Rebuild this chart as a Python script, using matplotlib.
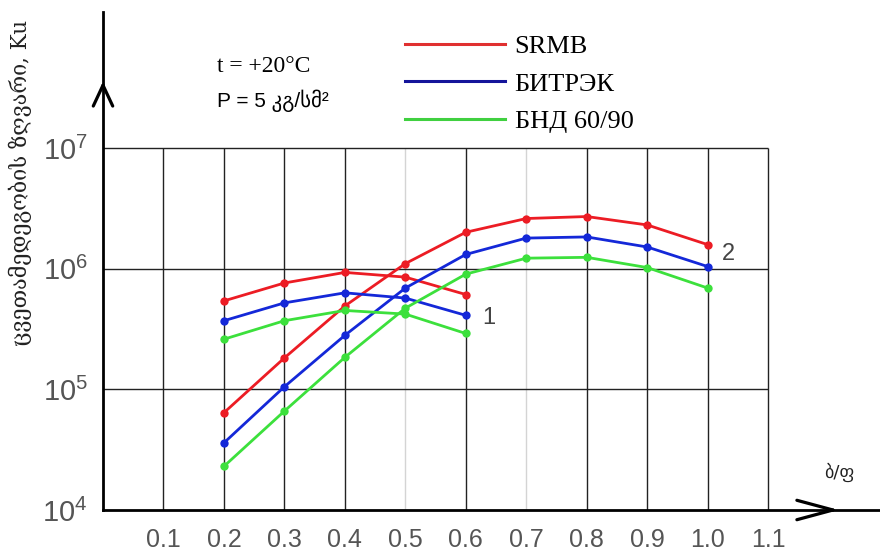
import numpy as np
import matplotlib
matplotlib.use('Agg')
import matplotlib.pyplot as plt
from matplotlib.lines import Line2D

# bitumen/filler ratio
x_short = [0.2, 0.3, 0.4, 0.5, 0.6]
x_long = [0.2, 0.3, 0.4, 0.5, 0.6, 0.7, 0.8, 0.9, 1.0]

# curve group 1
srmb_1 = [5.4e5, 7.6e5, 9.3e5, 8.5e5, 6.1e5]
bitrek_1 = [3.7e5, 5.2e5, 6.3e5, 5.7e5, 4.1e5]
bnd_1 = [2.6e5, 3.7e5, 4.5e5, 4.2e5, 2.9e5]

# curve group 2
srmb_2 = [6.4e4, 1.82e5, 4.9e5, 1.1e6, 2.0e6, 2.6e6, 2.7e6, 2.3e6, 1.58e6]
bitrek_2 = [3.6e4, 1.05e5, 2.8e5, 6.9e5, 1.31e6, 1.79e6, 1.83e6, 1.51e6, 1.04e6]
bnd_2 = [2.3e4, 6.6e4, 1.84e5, 4.7e5, 9.0e5, 1.22e6, 1.24e6, 1.02e6, 6.9e5]

series_names = ['SRMB', 'БИТРЭК', 'БНД 60/90']
curve_colors = ['#ec1c24', '#1428d8', '#3ce03c']
legend_colors = ['#e03030', '#14149a', '#40d040']

x_ticks = [0.1, 0.2, 0.3, 0.4, 0.5, 0.6, 0.7, 0.8, 0.9, 1.0, 1.1]
x_tick_labels = ['0.1', '0.2', '0.3', '0.4', '0.5', '0.6', '0.7', '0.8', '0.9', '1.0', '1.1']
y_ticks = [1e4, 1e5, 1e6, 1e7]
y_tick_labels = [r'$\mathregular{10^{4}}$', r'$\mathregular{10^{5}}$',
                 r'$\mathregular{10^{6}}$', r'$\mathregular{10^{7}}$']

W, H = 880, 552
fig = plt.figure(figsize=(W / 100, H / 100), dpi=100)
ax = fig.add_axes([103 / W, 42 / H, 777 / W, 498 / H])
ax.set_yscale('log')
ax.set_xlim(0, 1.285)
ax.set_ylim(1e4, 10 ** 8.126)

# grid (only inside the 0..1.1 x 1e4..1e7 box)
light = [0.5, 0.7]
for xv in x_ticks:
    c = '#d4d4d4' if xv in light else '#222222'
    ax.vlines(xv, 1e4, 1e7, color=c, lw=1.0, zorder=1)
ax.hlines(y_ticks[1:], 0, 1.1, color='#222222', lw=1.0, zorder=1)

# curves
for ys1, ys2, col in zip([srmb_1, bitrek_1, bnd_1], [srmb_2, bitrek_2, bnd_2], curve_colors):
    ax.plot(x_short, ys1, color=col, lw=2.0, marker='o', ms=6, mew=0, zorder=3)
    ax.plot(x_long, ys2, color=col, lw=2.0, marker='o', ms=6, mew=0, zorder=3)

ax.annotate('1', xy=(x_short[-1], bitrek_1[-1]), xytext=(12, -2), textcoords='offset points',
            fontsize=17, family='Liberation Sans', color='#444444', va='center')
ax.annotate('2', xy=(x_long[-1], bitrek_2[-1]), xytext=(10, 9), textcoords='offset points',
            fontsize=17, family='Liberation Sans', color='#444444', va='center')

# axes
for s in ['top', 'right']:
    ax.spines[s].set_visible(False)
for s in ['left', 'bottom']:
    ax.spines[s].set_linewidth(2.0)
    ax.spines[s].set_color('black')

ax.set_xticks(x_ticks)
ax.set_xticklabels(x_tick_labels)
ax.set_yticks(y_ticks)
ax.set_yticklabels(y_tick_labels)
ax.minorticks_off()
ax.tick_params(axis='x', length=0, pad=13, labelsize=18, labelcolor='#555555')
ax.tick_params(axis='y', length=0, pad=11, labelsize=21, labelcolor='#555555')
for lab in ax.get_xticklabels() + ax.get_yticklabels():
    lab.set_family('Liberation Sans')

# open arrow heads
arm = dict(arrowstyle='-', lw=2.3, color='black', shrinkA=0, shrinkB=0)
for dy in [7, -7]:
    ax.annotate('', xy=(0.9395, 0), xycoords='axes fraction',
                xytext=(-26, dy), textcoords='offset points', arrowprops=arm)
for dx in [7, -7]:
    ax.annotate('', xy=(0, 0.853), xycoords='axes fraction',
                xytext=(dx, -15), textcoords='offset points', arrowprops=arm)

# legend
handles = [Line2D([], [], color=c, lw=2.2) for c in legend_colors]
fig.legend(handles, series_names, loc='upper left', bbox_to_anchor=(405 / W, 1 - 35 / H),
           frameon=False, handlelength=3.8, handletextpad=0.35, labelspacing=0.52,
           borderpad=0, borderaxespad=0, prop={'family': 'Liberation Serif', 'size': 19})

fig.text(217 / W, 1 - 66 / H, 't = +20°C', family='Liberation Serif', fontsize=17,
         va='center', ha='left')
fig.text(217 / W, 1 - 101 / H, 'P = 5 კგ/სმ²', family=['Liberation Sans', 'DejaVu Sans'],
         fontsize=15, va='center', ha='left')

fig.text(839 / W, 1 - 472 / H, 'ბ/ფ', family='DejaVu Sans', fontsize=13,
         va='center', ha='center', color='#222222')
fig.text(20 / W, 1 - 183 / H, 'ცვეთამედეგობის ზღვარი, Ku', family='DejaVu Serif',
         fontsize=15.5, rotation=90, va='center', ha='center', color='#222222')

fig.savefig('out.png', dpi=100)
